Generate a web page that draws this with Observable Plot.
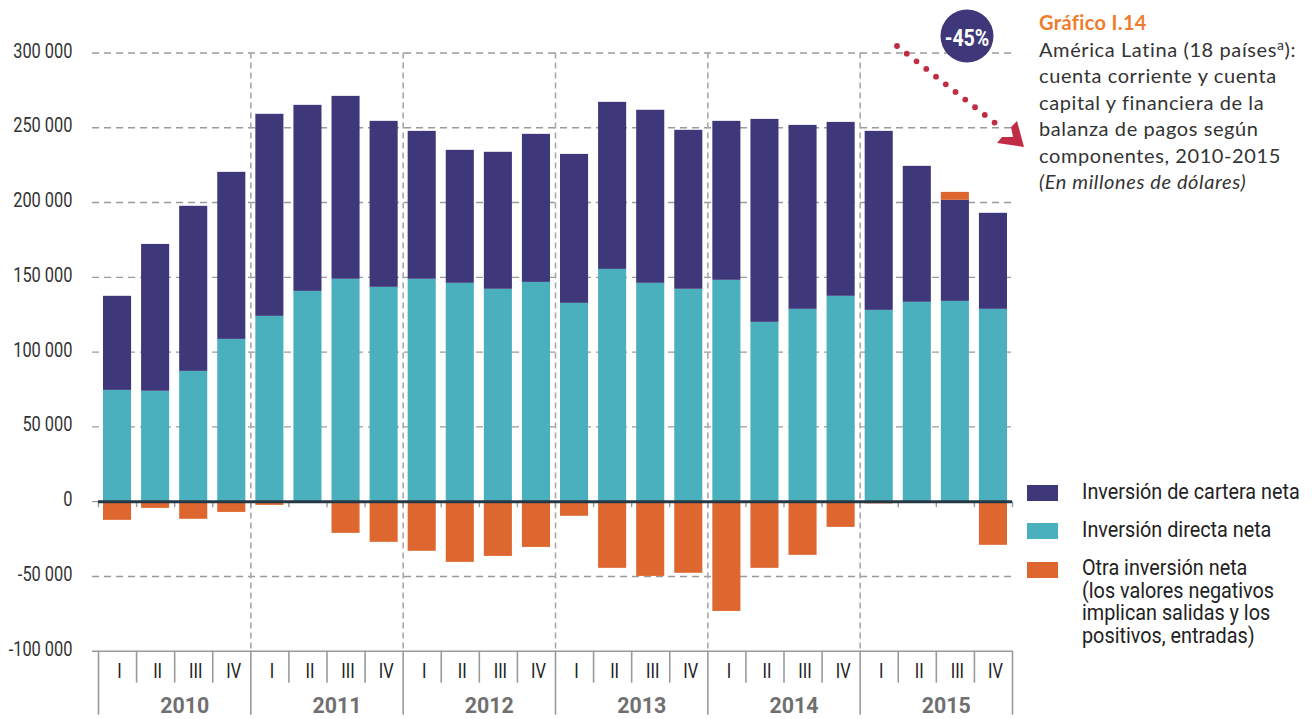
<!DOCTYPE html>
<html>
<head>
<meta charset="utf-8">
<script src="https://cdn.jsdelivr.net/npm/d3@7"></script>
<script src="https://cdn.jsdelivr.net/npm/@observablehq/plot@0.6"></script>
<style>
  body { margin: 0; background: #fff; }
  #wrap { position: relative; width: 1312px; height: 719px; overflow: hidden; background: #fff; }
  #chart svg { display: block; }
  #title { position: absolute; left: 1039px; top: 9px; font-family: Lato, "Open Sans", sans-serif; font-size: 20px; letter-spacing: 0.6px; line-height: 26.5px; color: #333; white-space: nowrap; }
  #title .num { color: #ef7d2d; font-weight: bold; letter-spacing: 0.35px; }
  #title sup { font-size: 14px; line-height: 0; vertical-align: 7px; }
  .sw { position: absolute; left: 1027px; width: 31px; height: 16px; }
  .lt { position: absolute; left: 1082px; font-family: Roboto, sans-serif; font-size: 22px; line-height: 22.5px; color: #222; white-space: nowrap; }
  .lt span { display: inline-block; transform: scaleX(0.9); transform-origin: 0 0; }
  #anno { position: absolute; left: 0; top: 0; pointer-events: none; }
</style>
</head>
<body>
<div id="wrap">
  <div id="chart"></div>
  <div id="title"></div>
  <div id="legend"></div>
  <svg id="anno" width="1312" height="719"></svg>
</div>
<script>
// ---------------- data ----------------
const years = ["2010", "2011", "2012", "2013", "2014", "2015"];
const quarters = ["I", "II", "III", "IV"];
const seriesNames = ["Inversión directa neta", "Inversión de cartera neta", "Otra inversión neta"];
const seriesColors = ["#4bb0be", "#3e387b", "#dd672f"];

// Inversión directa neta (millones de dólares), 2010-I ... 2015-IV
const directa = [74400, 73800, 87100, 108500,
                 123900, 140600, 148700, 143300,
                 148700, 146000, 142000, 146600,
                 132600, 155300, 146000, 142000,
                 148000, 119900, 128600, 137300,
                 127900, 133300, 133900, 128600];
// Inversión de cartera neta
const cartera = [62900, 98200, 110400, 111700,
                 135100, 124400, 122300, 111000,
                 98900, 88900, 91600, 99000,
                 99600, 111700, 115700, 106300,
                 106300, 135700, 123000, 116300,
                 119700, 90900, 67600, 64200];
// Otra inversión neta
const otra = [-12500, -4500, -11800, -7200,
              -2500, -1000, -21200, -27200,
              -33200, -40600, -36600, -30600,
              -9800, -44600, -50000, -47900,
              -73400, -44600, -35900, -17200,
              -1500, -1000, 5300, -29200];

const yTicks = [-100000, -50000, 0, 50000, 100000, 150000, 200000, 250000, 300000];

const titleLines = [
  "América Latina (18 países<sup>a</sup>):",
  "cuenta corriente y cuenta",
  "capital y financiera de la",
  "balanza de pagos según",
  "componentes, 2010-2015"
];
const titleNum = "Gráfico I.14";
const titleUnits = "(En millones de dólares)";
const legendOrder = [1, 0, 2];
const legendLabels = [
  ["Inversión directa neta"],
  ["Inversión de cartera neta"],
  ["Otra inversión neta", "(los valores negativos", "implican salidas y los", "positivos, entradas)"]
];
const annoLabel = "-45%";

// ---------------- build table ----------------
const series = [directa, cartera, otra];
const rows = [];
const cells = [];
years.forEach((yr, yi) => quarters.forEach((q, qi) => {
  const i = yi * 4 + qi;
  cells.push({i, year: yr, quarter: q});
  series.forEach((arr, s) => rows.push({i, year: yr, quarter: q, series: seriesNames[s], value: arr[i]}));
}));
const n = cells.length;
const bounds = d3.range(0, n + 1);
const yearBounds = bounds.filter(b => b % 4 === 0);
const innerYearBounds = yearBounds.filter(b => b > 0 && b < n);
const quarterBounds = bounds.filter(b => b % 4 !== 0);

const fmt = d => (d < 0 ? "-" : "") + d3.format(",")(Math.abs(d)).replace(/,/g, " ");

// ---------------- plot ----------------
const W = 1312, H = 719, mL = 92, mR = 300, mT = 52.5, mB = 68.3;
const frameH = H - mT - mB;
const FONT = 'Roboto, sans-serif';

const chart = Plot.plot({
  width: W, height: H,
  marginLeft: mL, marginRight: mR, marginTop: mT, marginBottom: mB,
  x: {domain: [0, n], range: [98, 1012], axis: null},
  y: {domain: [-100000, 300000], axis: null},
  color: {domain: seriesNames, range: seriesColors},
  style: {fontFamily: FONT, background: "white", overflow: "visible"},
  marks: [
    Plot.ruleY(yTicks.filter(d => d > -100000), {stroke: "#9a9a9a", strokeWidth: 1.4, strokeDasharray: "7,5"}),
    Plot.ruleY([-100000], {stroke: "#9a9a9a", strokeWidth: 1.6}),
    Plot.ruleX(innerYearBounds, {y1: 300000, y2: -100000, stroke: "#a8a8a8", strokeWidth: 1.6, strokeDasharray: "6,4"}),
    Plot.ruleX(yearBounds, {stroke: "#9a9a9a", strokeWidth: 1.6, insetTop: frameH, insetBottom: -64}),
    Plot.ruleX(quarterBounds, {stroke: "#9a9a9a", strokeWidth: 1.6, insetTop: frameH, insetBottom: -32}),
    Plot.ruleX(bounds, {y1: 0, y2: 0, stroke: "#9a9a9a", strokeWidth: 1.4, insetBottom: -6}),
    Plot.rectY(rows, {x1: "i", x2: d => d.i + 1, y: "value", fill: "series", insetLeft: 5, insetRight: 5}),
    Plot.ruleY([0], {x1: 0, x2: n, stroke: "#263845", strokeWidth: 3}),
    Plot.text(yTicks, {y: d => d, text: fmt, frameAnchor: "left", textAnchor: "end", dx: -20, dy: -2, fontSize: 20.5, fill: "#333"}),
    Plot.text(cells, {x: d => d.i + 0.5, y: () => -100000, text: "quarter", dy: 20, dx: 2, fontSize: 20.5, fill: "#222"}),
    Plot.text(years, {x: (d, k) => k * 4 + 2, y: () => -100000, text: d => d, dy: 54.5, dx: 10, fontSize: 22.5, fontWeight: "bold", fill: "#707070"})
  ]
});
document.getElementById("chart").appendChild(chart);

// condense text horizontally (no condensed face installed)
function condense(root, selector, s) {
  root.querySelectorAll(selector).forEach(t => {
    let tr = t.getAttribute("transform") || "";
    const x = t.getAttribute("x");
    if (x != null && !/em$/.test(x)) { tr += ` translate(${x},0)`; t.removeAttribute("x"); }
    t.setAttribute("transform", (tr + ` scale(${s},1)`).trim());
  });
}
condense(chart, 'g:not([font-weight="bold"]) > text', 0.8);
condense(chart, 'g[font-weight="bold"] > text', 0.95);

// ---------------- title ----------------
const title = document.getElementById("title");
title.innerHTML = `<div class="num">${titleNum}</div>` +
  titleLines.map(l => `<div>${l}</div>`).join("") +
  `<div><i>${titleUnits}</i></div>`;

// ---------------- legend ----------------
const legend = document.getElementById("legend");
const swTops = [485, 523, 562];
const txTops = [481, 519.3, 557];
legendOrder.forEach((s, k) => {
  const sw = document.createElement("div");
  sw.className = "sw";
  sw.style.top = swTops[k] + "px";
  sw.style.background = seriesColors[s];
  legend.appendChild(sw);
  const t = document.createElement("div");
  t.className = "lt";
  t.style.top = txTops[k] + "px";
  t.innerHTML = "<span>" + legendLabels[s].join("<br>") + "</span>";
  legend.appendChild(t);
});

// ---------------- annotation ----------------
const anno = d3.select("#anno");
anno.append("line").attr("x1", 897).attr("y1", 46).attr("x2", 1004).attr("y2", 130)
  .attr("stroke", "#c12c45").attr("stroke-width", 5.8).attr("stroke-linecap", "round")
  .attr("stroke-dasharray", "0 12.4");
anno.append("polygon").attr("points", "1017,121 1024,147 997,143 1002,137 1013,137 1011,127")
  .attr("fill", "#c12c45");
anno.append("circle").attr("cx", 967).attr("cy", 36).attr("r", 26.5).attr("fill", "#3e387b");
anno.append("text").attr("transform", "translate(967,37.5) scale(0.8,1)").attr("dy", "0.36em").attr("text-anchor", "middle")
  .attr("fill", "#fff").attr("font-weight", "bold").attr("font-size", 24.5)
  .attr("font-family", FONT).text(annoLabel);
</script>
</body>
</html>
